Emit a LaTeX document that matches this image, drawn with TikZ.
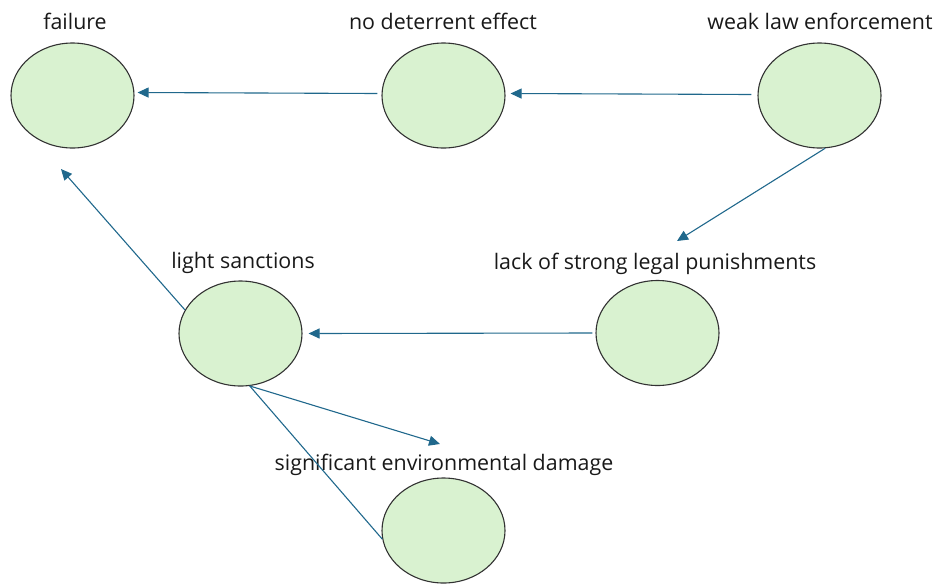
\documentclass[tikz,border=0pt]{standalone}
\usepackage{fontspec}
\setmainfont{Open Sans}
\usetikzlibrary{shapes.geometric,arrows.meta}
\definecolor{bubblefill}{RGB}{217,242,208}
\definecolor{bubbleline}{RGB}{50,50,50}
\definecolor{linkcol}{RGB}{32,104,140}
\tikzset{
  bubble/.style={ellipse, draw=bubbleline, fill=bubblefill, line width=1.1pt,
    minimum width=123pt, minimum height=105pt, inner sep=0pt},
  caption/.style={font=\fontsize{21.4}{25}\selectfont, text=black!90, inner sep=0pt},
  link/.style={draw=linkcol, line width=1.1pt, -{Triangle[length=11pt,width=10pt]}},
  plainlink/.style={draw=linkcol, line width=1.1pt}
}
\begin{document}
\begin{tikzpicture}[x=1pt,y=-1pt]
\useasboundingbox (0,0) rectangle (936,587);
% bubbles
\node[bubble] (fail) at (72.5,95.5) {};
\node[bubble] (nodet) at (443.5,95.5) {};
\node[bubble] (weak) at (819.5,95.5) {};
\node[bubble] (lack) at (657.5,333) {};
\node[bubble] (light) at (240.5,333.5) {};
\node[bubble] (env) at (443.5,530.5) {};
% captions
\node[caption] (failT) at (75,21) {failure};
\node[caption] (nodetT) at (443,21) {no deterrent effect};
\node[caption] (weakT) at (820,21) {weak law enforcement};
\node[caption] (lackT) at (655,264) {lack of strong legal punishments};
\node[caption] (lightT) at (243,263) {light sanctions};
\node[caption] (envT) at (444,465) {significant environmental damage};
% free ends of arrows
\coordinate (c1) at (677,241);
\coordinate (c2) at (61,169);
\coordinate (c3) at (440,444);
% connectors
\draw[link] ([xshift=-6pt,yshift=1pt]weak.west) -- ([xshift=5pt,yshift=2pt]nodet.east);
\draw[link] ([xshift=-4pt,yshift=2pt]nodet.west) -- ([xshift=3pt,yshift=3pt]fail.east);
\draw[link] (weak.-84) -- (c1);
\draw[link] ([xshift=-3pt]lack.west) -- ([xshift=6pt]light.east);
\draw[link] (light.157) -- (c2);
\draw[link] (light.-80) -- (c3);
\draw[plainlink] (light.-80) -- (env.188);
\end{tikzpicture}
\end{document}
